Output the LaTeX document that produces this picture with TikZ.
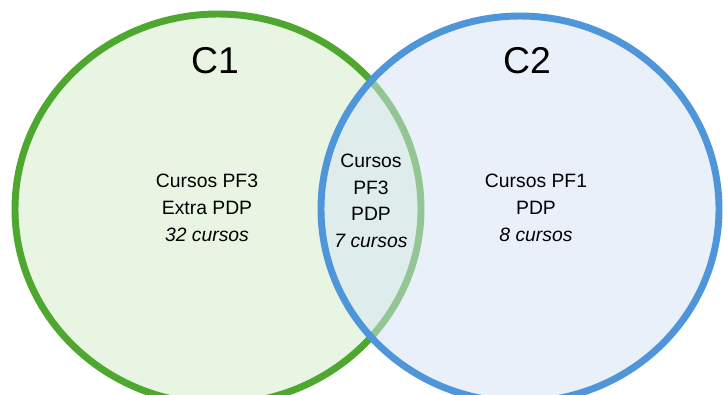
\documentclass[tikz,border=0pt]{standalone}
\usepackage{fontspec}
\setmainfont{Liberation Sans}
\begin{document}
\begin{tikzpicture}[x=0.75pt,y=-0.75pt,
  setA/.style={draw=c1stroke,fill=c1fill,line width=5.2pt},
  setB/.style={draw=c2stroke,fill=c2fill,fill opacity=0.52,draw opacity=1,line width=5.2pt},
  title/.style={font=\fontsize{28}{32}\selectfont,anchor=center},
  body/.style={font=\fontsize{14.5}{20}\selectfont,align=center,anchor=center,text=black}]
\definecolor{c1stroke}{HTML}{4EA72E}
\definecolor{c1fill}{HTML}{E9F5E3}
\definecolor{c2stroke}{HTML}{4E95D9}
\definecolor{c2fill}{RGB}{214,228,245}
\useasboundingbox (0,0) rectangle (723,394);
\clip (0,0) rectangle (723,394);
\fill[white] (0,0) rectangle (723,394);
\draw[setA] (218,209) ellipse [x radius=203, y radius=195];
\draw[setB] (520,209) ellipse [x radius=199, y radius=193];
\node[title] (t1) at (215,61) {C1};
\node[title] (t2) at (527,61) {C2};
\node[body] (l) at (207,208) {Cursos PF3\\Extra PDP\\\itshape 32 cursos};
\node[body] (m) at (371,201) {Cursos\\PF3\\PDP\\\itshape 7 cursos};
\node[body] (r) at (536,208) {Cursos PF1\\PDP\\\itshape 8 cursos};
\end{tikzpicture}
\end{document}
